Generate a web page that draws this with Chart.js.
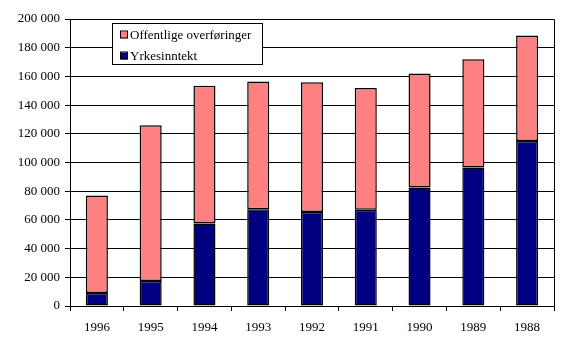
<!DOCTYPE html>
<html>
<head>
<meta charset="utf-8">
<script src="https://cdn.jsdelivr.net/npm/chart.js@4/dist/chart.umd.min.js"></script>
<style>
html,body{margin:0;padding:0;background:#fff;}
#wrap{position:relative;width:585px;height:355px;}
</style>
</head>
<body>
<div id="wrap"><canvas id="c" width="585" height="355"></canvas></div>
<script>
const categories = ['1996','1995','1994','1993','1992','1991','1990','1989','1988'];
const yrkesinntekt = [9000, 17500, 57500, 67500, 65500, 67000, 82500, 96500, 115000];
const offentlige = [68000, 108500, 96000, 89000, 90500, 85000, 79500, 75500, 73500];
const seriesNames = ['Yrkesinntekt', 'Offentlige overføringer'];
const yTicks = [0, 20000, 40000, 60000, 80000, 100000, 120000, 140000, 160000, 180000, 200000];

const FONT = 'Liberation Serif';

const fmt = v => String(v).replace(/\B(?=(\d{3})+(?!\d))/g, ' ');

const frame = {
  id: 'frame',
  afterDatasetsDraw(chart) {
    const {ctx, chartArea: a} = chart;
    ctx.save();
    ctx.strokeStyle = '#000';
    ctx.lineWidth = 1;
    ctx.beginPath();
    ctx.moveTo(a.left, Math.round(a.top) + 0.5);
    ctx.lineTo(Math.round(a.right) + 0.5, Math.round(a.top) + 0.5);
    ctx.lineTo(Math.round(a.right) + 0.5, a.bottom);
    ctx.stroke();
    ctx.restore();
  },
  afterDraw(chart) {
    const {ctx} = chart;
    const ds = chart.data.datasets;
    const bx = 112, by = 23, bw = 150, bh = 41;
    ctx.save();
    ctx.fillStyle = '#fff';
    ctx.fillRect(bx, by, bw, bh);
    ctx.strokeStyle = '#000';
    ctx.lineWidth = 1;
    ctx.strokeRect(bx + 0.5, by + 0.5, bw, bh);
    ctx.font = '13px "' + FONT + '"';
    ctx.textBaseline = 'middle';
    const order = [1, 0];
    order.forEach((di, i) => {
      const y = by + 12 + i * 21;
      ctx.fillStyle = ds[di].backgroundColor;
      ctx.fillRect(121, y - 3.5, 7, 7);
      ctx.strokeStyle = '#000';
      ctx.strokeRect(120.5, y - 4, 7, 7);
      ctx.fillStyle = '#000';
      ctx.fillText(ds[di].label, 130, y + 1);
    });
    ctx.restore();
  }
};

new Chart(document.getElementById('c'), {
  type: 'bar',
  data: {
    labels: categories,
    datasets: [
      { label: seriesNames[0], data: yrkesinntekt, backgroundColor: '#000080', borderColor: '#000', borderWidth: 1.5, borderSkipped: false },
      { label: seriesNames[1], data: offentlige, backgroundColor: '#FF8080', borderColor: '#000', borderWidth: 1.5, borderSkipped: false }
    ]
  },
  options: {
    responsive: false,
    animation: false,
    devicePixelRatio: 1,
    layout: { padding: { left: 0, right: 31, top: 19, bottom: 0 } },
    datasets: { bar: { barPercentage: 0.41, categoryPercentage: 1 } },
    plugins: { legend: { display: false }, tooltip: { enabled: false } },
    scales: {
      x: {
        stacked: true,
        grid: { display: true, offset: true, drawOnChartArea: false, drawTicks: true, tickLength: 5, color: '#000', lineWidth: 1 },
        border: { display: true, color: '#000', width: 1 },
        ticks: { color: '#000', font: { family: FONT, size: 13 }, padding: 9, maxRotation: 0 },
        afterFit(s) { s.height = 49; }
      },
      y: {
        stacked: true,
        min: 0, max: 200000,
        afterBuildTicks(s) { s.ticks = yTicks.map(v => ({ value: v })); },
        grid: { color: '#000', lineWidth: 1, drawTicks: true, tickLength: 5 },
        border: { display: true, color: '#000', width: 1 },
        ticks: { color: '#000', font: { family: FONT, size: 13 }, padding: 5, callback: v => fmt(v) },
        afterFit(s) { s.width = 70; }
      }
    }
  },
  plugins: [frame]
});
</script>
</body>
</html>
